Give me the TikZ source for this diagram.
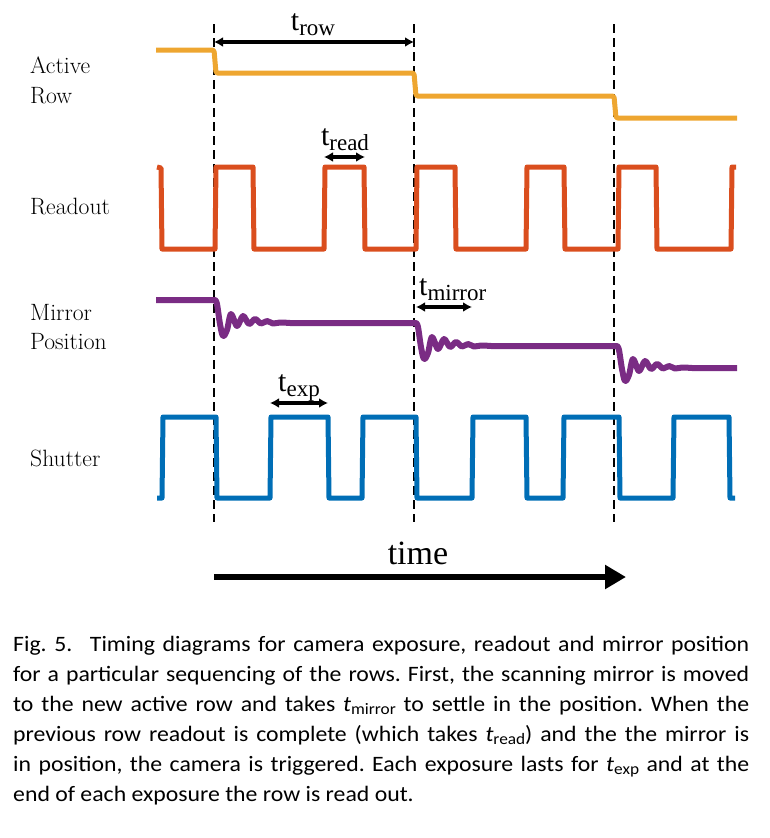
\documentclass[tikz,border=0pt]{standalone}
\usepackage{fontspec}
\newfontfamily\capfont[FakeStretch=1.08]{Carlito}
\newfontfamily\tfont{Liberation Serif}
\usetikzlibrary{arrows.meta}
\definecolor{worange}{RGB}{238,166,48}
\definecolor{wred}{RGB}{218,78,30}
\definecolor{wpurple}{RGB}{122,44,132}
\definecolor{wblue}{RGB}{0,110,182}
\newcommand{\tlab}[1]{{\tfont\fontsize{30}{34}\selectfont t\raisebox{-5pt}{\fontsize{23}{26}\selectfont #1}}}
\newcommand{\capt}[1]{{\itshape t}\raisebox{-3pt}{\fontsize{16}{18}\selectfont #1}}
\begin{document}
\begin{tikzpicture}[x=1pt,y=-1pt,
  lbl/.style={anchor=base west,inner sep=0pt,font=\fontsize{23.6}{30}\selectfont},
  tl/.style={anchor=base,inner sep=0pt},
  wave/.style={line width=5pt,line join=round,line cap=round},
  guide/.style={line width=1.8pt,dash pattern=on 9pt off 5pt},
  dim/.style={line width=4pt,{Latex[length=9pt,width=10pt]}-{Latex[length=9pt,width=10pt]}},
]
\useasboundingbox (0,0) rectangle (770,838);

% guides
\foreach \gx/\nm in {214/g1,414/g2,614/g3}{
  \coordinate (\nm t) at (\gx,24);
  \coordinate (\nm b) at (\gx,522);
  \draw[guide] (\nm t) -- (\nm b);
}

% labels
\node[lbl] (la1) at (30,73) {Active};
\node[lbl] (la2) at (30,103) {Row};
\node[lbl] (lr) at (30,214) {Readout};
\node[lbl] (lm1) at (30,320) {Mirror};
\node[lbl] (lm2) at (30,349) {Position};
\node[lbl] (ls) at (30,466) {Shutter};

% active row
\draw[wave,worange,line cap=butt,rounded corners=1.5pt] (156,50) -- (214,50) -- (216,73) -- (414,73) -- (416,96) -- (614,96) -- (616,118) -- (737,118);

% readout
\draw[wave,wred,line cap=butt] (157,167) -- (161,168) -- (162,249) -- (215,249) -- (216,167) -- (253,167) -- (254,249) -- (324,249) -- (325,167) -- (364,167) -- (365,249) -- (416,249) -- (417,167) -- (455,167) -- (456,249) -- (526,249) -- (527,167) -- (564,167) -- (565,249) -- (618,249) -- (619,167) -- (656,167) -- (657,249) -- (731,249) -- (732,167) -- (736,167);

% mirror
\draw[wave,wpurple,line width=6pt,line cap=butt] (156,300) -- (215,300)
  -- plot[smooth,tension=0.55] coordinates {(215,300) (217,304) (220,324) (223,336) (227,330) (231,314) (237,326) (243,316) (249,324) (255,319) (261,323.5) (267,321) (273,323.5) (280,322.5) (290,323)}
  -- (416,323)
  -- plot[smooth,tension=0.55] coordinates {(416,323) (418,327) (421,347) (424,359) (428,353) (432,337) (438,349) (444,339) (450,347) (456,342) (462,346.5) (468,344) (474,346.5) (481,345.5) (491,346)}
  -- (617,346)
  -- plot[smooth,tension=0.55] coordinates {(617,346) (619,350) (622,369) (625,381) (629,375) (633,359) (639,371) (645,361) (651,369) (657,364) (663,368.5) (669,366) (675,368.5) (682,367.5) (692,368)}
  -- (737,368);

% shutter
\draw[wave,wblue,line cap=butt] (157,498) -- (162,498) -- (163,417) -- (216,417) -- (217,498) -- (270,498) -- (271,417) -- (328,417) -- (329,498) -- (362,498) -- (363,417) -- (416,417) -- (417,498) -- (472,498) -- (473,417) -- (526,417) -- (527,498) -- (563,498) -- (564,417) -- (619,417) -- (620,498) -- (673,498) -- (674,417) -- (729,417) -- (730,498) -- (735,498);

% dimension arrows
\coordinate (rowA) at (214,42); \coordinate (rowB) at (414,42);
\draw[dim] (rowA) -- (rowB);
\node[tl] (trow) at (313,30) {\tlab{row}};

\coordinate (rdA) at (324,157); \coordinate (rdB) at (365,157);
\draw[dim] (rdA) -- (rdB);
\node[tl] (tread) at (345,145) {\tlab{read}};

\coordinate (miA) at (416,307); \coordinate (miB) at (472,307);
\draw[dim] (miA) -- (miB);
\node[tl,anchor=base west] (tmirror) at (419,295) {\tlab{mirror}};

\coordinate (exA) at (270,403); \coordinate (exB) at (328,403);
\draw[dim] (exA) -- (exB);
\node[tl] (texp) at (299,391) {\tlab{exp}};

% time arrow
\coordinate (timeA) at (214,577); \coordinate (timeB) at (626,577);
\draw[line width=6pt,-{Triangle[length=21pt,width=23pt]}] (timeA) -- (timeB);
\node[tl] (time) at (418,564) {\tfont\fontsize{34}{38}\selectfont time};

% caption
\node[anchor=north west,inner sep=0pt,text width=736pt,align=justify] (cap) at (13,636.5)
{\capfont\fontsize{22}{30}\selectfont\frenchspacing
Fig.\ 5.\hspace{0.8em}Timing diagrams for camera exposure, readout and mirror position\linebreak
for a particular sequencing of the rows. First, the scanning mirror is moved\linebreak
to the new active row and takes \capt{mirror} to settle in the position. When the\linebreak
previous row readout is complete (which takes \capt{read}) and the the mirror is\linebreak
in position, the camera is triggered. Each exposure lasts for \capt{exp} and at the\linebreak
end of each exposure the row is read out.\par};
\end{tikzpicture}
\end{document}
